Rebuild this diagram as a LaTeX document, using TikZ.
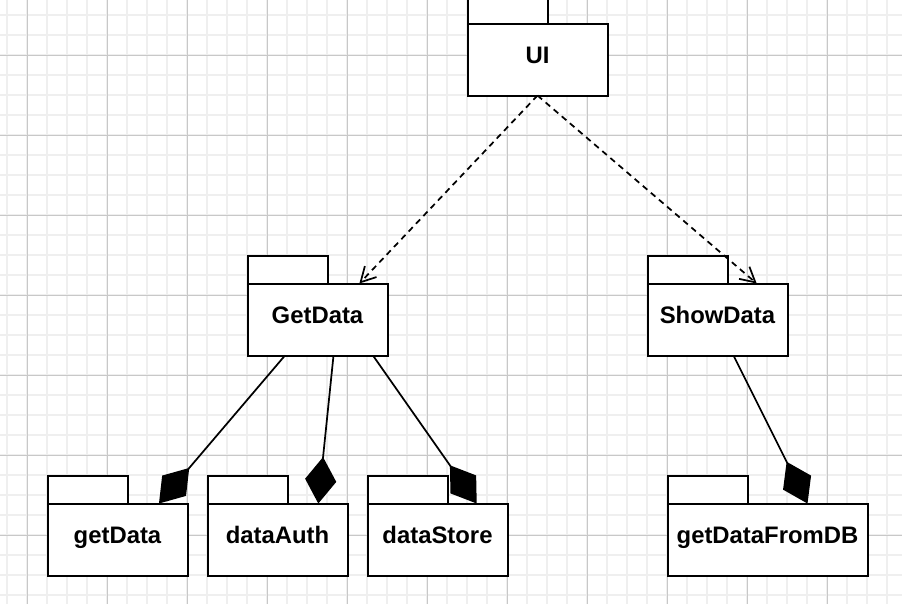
\documentclass[tikz,border=0pt]{standalone}
\usepackage{fontspec}
\setmainfont{Liberation Sans}
\usetikzlibrary{arrows.meta, positioning}
\definecolor{gridminor}{HTML}{EFEFEF}
\definecolor{gridmajor}{HTML}{C8C8C8}

\begin{document}
\begin{tikzpicture}[
    x=0.75pt, y=-0.75pt,
    pkg/.style={rectangle, draw=black, line width=1.5pt, fill=white, minimum width=105pt, minimum height=54pt, outer sep=0pt, inner sep=0pt, text height=12pt, text depth=6.5pt, font=\fontsize{17.9}{20}\selectfont\bfseries},
    pkgtab/.style={draw=black, line width=1.5pt, fill=white},
    dep/.style={line width=1.3pt, dash pattern=on 4.5pt off 3.5pt, -{Straight Barb[length=11pt, width=12pt]}},
    comp/.style={line width=1.3pt, -{Diamond[length=35pt, width=23.5pt]}}
]

\path[use as bounding box, clip] (0,0) rectangle (902,604);

% Grid
\foreach \gx in {7,27,...,902} \draw[gridminor, line width=1.2pt] (\gx,0) -- (\gx,604);
\foreach \gy in {15,35,...,604} \draw[gridminor, line width=1.2pt] (0,\gy) -- (902,\gy);
\foreach \gx in {27,107,...,902} \draw[gridmajor, line width=0.75pt] (\gx,0) -- (\gx,604);
\foreach \gy in {55,135,...,604} \draw[gridmajor, line width=0.75pt] (0,\gy) -- (902,\gy);

% Packages
\node (ui) [pkg] at (537.5,59.5) {UI};
\node (getdata) [pkg, below=141pt of ui, xshift=-165pt] {GetData};
\node (showdata) [pkg, right=195pt of getdata] {ShowData};
\node (getdataleaf) [pkg, below=111pt of getdata, xshift=-150pt] {getData};
\node (dataauth) [pkg, right=15pt of getdataleaf] {dataAuth};
\node (datastore) [pkg, right=15pt of dataauth] {dataStore};
\node (getdatadb) [pkg, minimum width=150pt, below=111pt of showdata, xshift=37.5pt] {getDataFromDB};

% Tabs
\foreach \n in {ui,getdata,showdata,getdataleaf,dataauth,datastore,getdatadb}
    \draw[pkgtab] (\n.north west) rectangle ++(80,-28);

% Dependencies
\draw[dep] (ui.south) -- ([xshift=83.9pt]getdata.north west);
\draw[dep] (ui.south) -- ([xshift=81.9pt]showdata.north west);

% Compositions
\draw[comp] ([xshift=28.1pt]getdata.south west) -- ([xshift=83.6pt]getdataleaf.north west);
\draw[comp] ([xshift=64.5pt]getdata.south west) -- ([xshift=83.1pt]dataauth.north west);
\draw[comp] ([xshift=94.1pt]getdata.south west) -- ([xshift=81.9pt]datastore.north west);
\draw[comp] ([xshift=64.5pt]showdata.south west) -- ([xshift=105pt]getdatadb.north west);

\end{tikzpicture}
\end{document}
